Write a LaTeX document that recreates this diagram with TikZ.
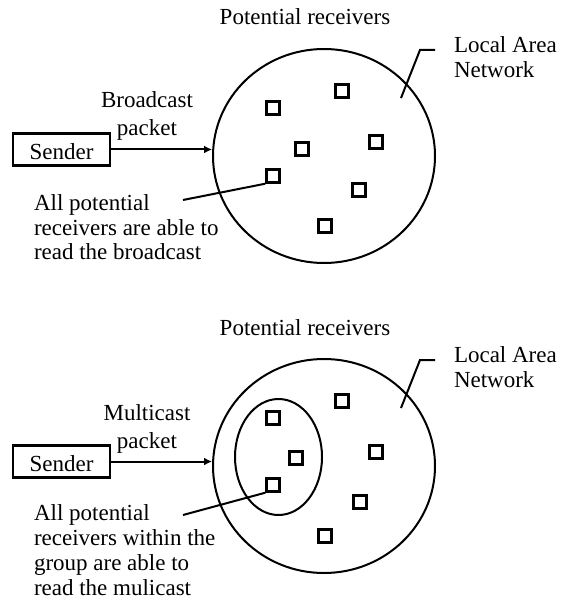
\documentclass[tikz,border=0pt]{standalone}
\usepackage{fontspec}
\setmainfont{Liberation Serif}
\usetikzlibrary{shapes.geometric,arrows.meta}
\newcommand{\labelfont}{\fontsize{23}{24.5}\selectfont}

\begin{document}
\begin{tikzpicture}
[x=1pt,y=-1pt,line width=2pt,
every node/.style={font=\labelfont,inner sep=0pt},
lan/.style={draw,ellipse,minimum width=222pt,minimum height=214pt},
group/.style={draw,ellipse,minimum width=87pt,minimum height=116pt},
rcv/.style={draw,rectangle,line width=2.4pt,minimum size=13pt},
sender/.style={draw,rectangle,line width=2.4pt,minimum width=97pt,minimum height=32pt,
	text height=20pt,text depth=0pt},
txt/.style={align=left,anchor=north west},
pktlabel/.style={align=center,anchor=north,font=\fontsize{23}{28}\selectfont},
packet/.style={-{Latex[length=8pt,width=8pt]}}]

\useasboundingbox (0,0) rectangle (562,609);

% broadcast
\node[anchor=base] (title1) at (305,25) {Potential receivers};
\node[lan] (lan1) at (324,156) {};
\foreach \i/\x/\y in {1/273/108,2/342/91,3/376/142,4/302/149,5/273/176,6/359/190,7/325/226}
	\node[rcv] (b\i) at (\x,\y) {};
\node[sender] (snd1) at (61.5,149.5) {Sender};
\draw[packet] (snd1.east) -- (snd1.east -| lan1.west);
\node[pktlabel] (pkt1) at (147,91) {Broadcast\\packet};
\node[txt] (note1) at (33,194) {All potential\\receivers are able to\\read the broadcast};
\coordinate (n1) at (183,200);
\draw (n1) -- (b5.south west);
\node[txt] (net1) at (453,36) {Local Area\\Network};
\coordinate (k1) at (401,98);
\coordinate (k2) at (420,50);
\coordinate (k3) at (435,50);
\draw (k1) -- (k2) -- (k3);

% multicast
\node[anchor=base] (title2) at (305,335) {Potential receivers};
\node[lan] (lan2) at (324,466) {};
\node[group] (grp) at (278.5,457) {};
\foreach \i/\x/\y in {1/273/418,2/342/401,3/376/452,4/296/458,5/273/485,6/360/502,7/325/536}
	\node[rcv] (m\i) at (\x,\y) {};
\node[sender] (snd2) at (61.5,461.5) {Sender};
\draw[packet] (snd2.east) -- (snd2.east -| lan2.west);
\node[pktlabel] (pkt2) at (147,404) {Multicast\\packet};
\node[txt,font=\fontsize{23}{25}\selectfont] (note2) at (33,504) {All potential\\receivers within the\\group are able to\\read the mulicast};
\coordinate (n2) at (183,515);
\draw (n2) -- (m5.south west);
\node[txt] (net2) at (453,346) {Local Area\\Network};
\coordinate (j1) at (401,408);
\coordinate (j2) at (420,360);
\coordinate (j3) at (435,360);
\draw (j1) -- (j2) -- (j3);
\end{tikzpicture}
\end{document}
